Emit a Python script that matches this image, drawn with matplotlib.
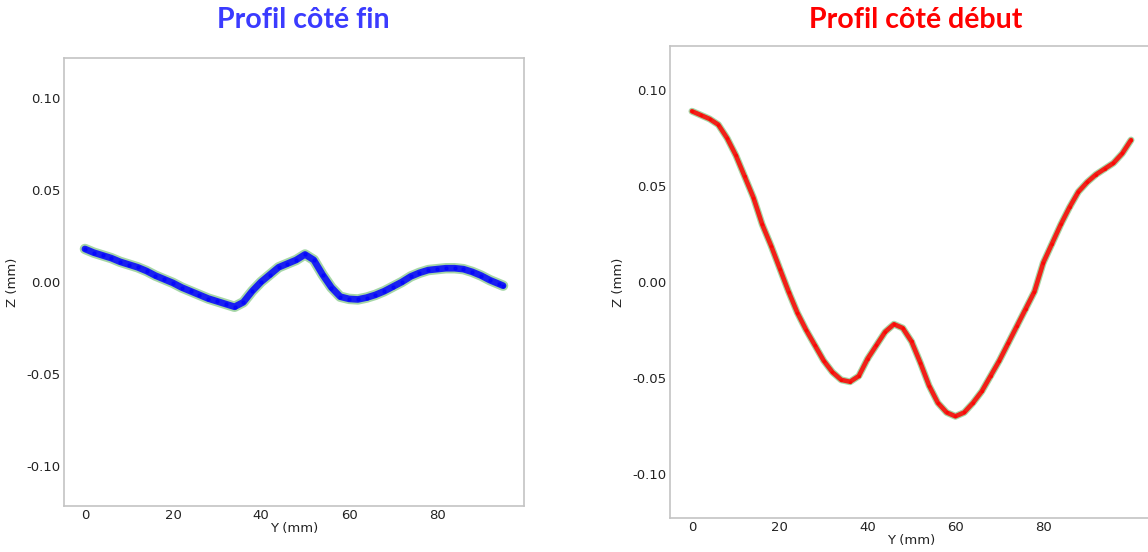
import numpy as np
import matplotlib
matplotlib.use('Agg')
import matplotlib.pyplot as plt

# profil côté fin (Y en mm, Z en mm)
y_fin = [0, 2, 4, 6, 8, 10, 12, 14, 16, 18, 20, 22, 24, 26, 28, 30, 32, 34, 36, 38,
         40, 42, 44, 46, 48, 50, 52, 54, 56, 58, 60, 62, 64, 66, 68, 70, 72, 74, 76,
         78, 80, 82, 84, 86, 88, 90, 92, 94, 95]
z_fin = [0.018, 0.016, 0.0145, 0.013, 0.011, 0.0095, 0.008, 0.006, 0.0035, 0.0015,
         -0.0005, -0.003, -0.005, -0.007, -0.009, -0.0105, -0.012, -0.0135, -0.011,
         -0.005, 0.000, 0.004, 0.008, 0.010, 0.012, 0.015, 0.012, 0.004, -0.003,
         -0.008, -0.0092, -0.0095, -0.0085, -0.007, -0.005, -0.0025, 0.000, 0.003,
         0.005, 0.0065, 0.007, 0.0075, 0.0075, 0.007, 0.0055, 0.0035, 0.001, -0.001,
         -0.002]

# profil côté début
y_deb = [0, 2, 4, 6, 8, 10, 12, 14, 16, 18, 20, 22, 24, 26, 28, 30, 32, 34, 36, 38,
         40, 42, 44, 46, 48, 50, 52, 54, 56, 58, 60, 62, 64, 66, 68, 70, 72, 74, 76,
         78, 80, 82, 84, 86, 88, 90, 92, 94, 96, 98, 100]
z_deb = [0.089, 0.087, 0.085, 0.082, 0.075, 0.066, 0.055, 0.044, 0.030, 0.019, 0.007,
         -0.005, -0.016, -0.025, -0.033, -0.041, -0.047, -0.051, -0.052, -0.049,
         -0.040, -0.033, -0.026, -0.022, -0.024, -0.031, -0.042, -0.054, -0.063,
         -0.068, -0.070, -0.068, -0.063, -0.057, -0.049, -0.041, -0.032, -0.023,
         -0.014, -0.005, 0.010, 0.020, 0.030, 0.039, 0.047, 0.052, 0.056, 0.059,
         0.062, 0.067, 0.074]

yticks = [-0.10, -0.05, 0.00, 0.05, 0.10]
xticks = [0, 20, 40, 60, 80]

W, H = 1148, 552
fig = plt.figure(figsize=(W / 100, H / 100), dpi=100)

def panel(rect, x, z, col, lw_c, lw_g, ylim):
    ax = fig.add_axes([rect[0] / W, 1 - rect[3] / H, (rect[2] - rect[0]) / W,
                       (rect[3] - rect[1]) / H])
    # halo vert (points bruts) puis profil
    ax.plot(x, z, '-', color='#3aa63a', lw=lw_g, alpha=0.45, solid_capstyle='round')
    ax.plot(x, z, '-', color=col, lw=lw_c, alpha=0.85, solid_capstyle='round')
    ax.plot(x, z, '.', color=col, ms=lw_c * 0.9, alpha=0.6)
    ax.set_ylim(-ylim, ylim)
    ax.set_yticks(yticks)
    ax.set_yticklabels(['%.2f' % v for v in yticks])
    ax.set_xticks(xticks)
    ax.tick_params(length=0, labelsize=9.5, labelcolor='#222222', pad=2.5)
    for s in ax.spines.values():
        s.set_color('#c4c4c4')
        s.set_linewidth(1.2)
    ax.set_xlabel('Y (mm)', fontsize=9.5, color='#222222', labelpad=0)
    ax.set_ylabel('Z (mm)', fontsize=9.5, color='#222222', labelpad=5)
    return ax

ax1 = panel((64, 58, 524, 506), y_fin, z_fin, '#0000ff', 4.8, 7.5, 0.122)
ax2 = panel((670, 46, 1153, 518), y_deb, z_deb, '#ff0000', 3.3, 5.0, 0.123)
ax2.set_xlim(-5, 105)

fig.text(303 / W, 1 - 20 / H, 'Profil côté fin', color='#3b3bff', fontsize=20.5,
         fontweight='bold', family='Lato', ha='center', va='center')
fig.text(916 / W, 1 - 20 / H, 'Profil côté début', color='#ff0000', fontsize=20.5,
         fontweight='bold', family='Lato', ha='center', va='center')

fig.savefig('out.png', dpi=100)
